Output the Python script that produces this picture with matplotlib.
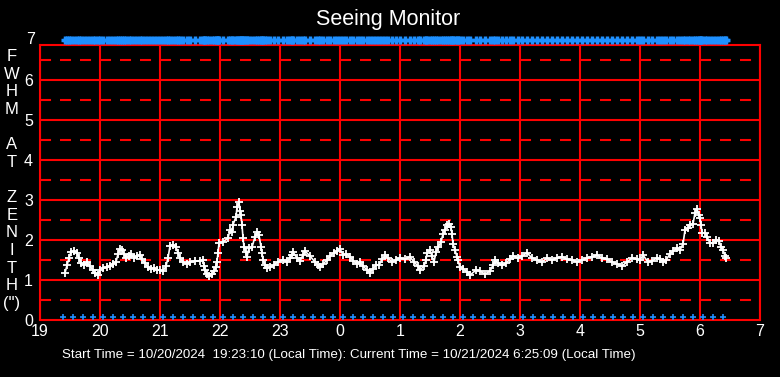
import matplotlib
matplotlib.use("Agg")
import matplotlib.pyplot as plt
import matplotlib.transforms as mtransforms

# minutes after 19:00 on 10/20/2024, FWHM at zenith (arcsec)
minutes = [25, 27, 29, 31, 34, 37, 39, 41, 44, 47, 50, 53, 55, 58, 60, 63, 67, 70, 73, 76,
           78, 80, 82, 84, 86, 89, 91, 94, 97, 100, 102, 105, 108, 111, 114, 117, 120, 123,
           126, 128, 130, 133, 136, 138, 140, 143, 147, 150, 155, 160, 163, 164, 165, 167,
           169, 172, 174, 176, 177, 178, 179, 183, 188, 190, 192, 193, 196, 197, 199, 200,
           201, 202, 203, 204, 206, 207, 209, 212, 215, 217, 219, 221, 222, 223, 225, 227,
           230, 234, 238, 243, 247, 250, 252, 253, 257, 260, 263, 265, 270, 275, 278, 280,
           283, 287, 290, 294, 297, 300, 303, 306, 310, 313, 317, 320, 323, 327, 330, 333,
           336, 339, 342, 345, 348, 352, 356, 360, 365, 370, 374, 378, 380, 384, 386, 387,
           390, 392, 394, 396, 398, 401, 403, 405, 407, 409, 411, 412, 413, 415, 417, 418,
           420, 423, 427, 430, 436, 440, 445, 450, 453, 455, 458, 462, 466, 470, 473, 478,
           482, 487, 492, 497, 502, 507, 512, 517, 522, 527, 532, 537, 542, 547, 552, 557,
           562, 567, 572, 577, 582, 587, 592, 597, 600, 603, 608, 612, 617, 620, 623, 626,
           630, 633, 637, 640, 643, 645, 648, 650, 653, 655, 657, 659, 660, 661, 662, 665,
           667, 670, 673, 676, 679, 681, 683, 685, 686]
fwhm = [1.18, 1.37, 1.55, 1.70, 1.72, 1.68, 1.55, 1.42, 1.37, 1.45, 1.35, 1.25, 1.18, 1.12,
        1.25, 1.30, 1.32, 1.35, 1.40, 1.45, 1.65, 1.78, 1.75, 1.65, 1.55, 1.60, 1.65, 1.55,
        1.60, 1.62, 1.52, 1.42, 1.32, 1.28, 1.30, 1.25, 1.25, 1.22, 1.35, 1.55, 1.85, 1.88,
        1.82, 1.68, 1.55, 1.45, 1.40, 1.45, 1.48, 1.48, 1.50, 1.35, 1.25, 1.15, 1.10, 1.15,
        1.22, 1.32, 1.45, 1.68, 1.92, 1.95, 2.05, 2.25, 2.20, 2.38, 2.58, 2.82, 2.95, 2.72,
        2.62, 2.38, 2.05, 1.82, 1.70, 1.58, 1.80, 1.82, 2.08, 2.20, 2.12, 1.82, 1.68, 1.50,
        1.38, 1.30, 1.32, 1.38, 1.45, 1.50, 1.45, 1.55, 1.62, 1.70, 1.55, 1.48, 1.62, 1.72,
        1.60, 1.45, 1.37, 1.32, 1.40, 1.50, 1.60, 1.68, 1.72, 1.78, 1.62, 1.65, 1.58, 1.48,
        1.40, 1.45, 1.35, 1.25, 1.18, 1.28, 1.37, 1.37, 1.52, 1.62, 1.55, 1.45, 1.50, 1.55,
        1.52, 1.58, 1.45, 1.35, 1.25, 1.35, 1.50, 1.68, 1.75, 1.60, 1.45, 1.70, 1.82, 1.95,
        2.15, 2.25, 2.38, 2.40, 2.32, 2.15, 1.90, 1.75, 1.58, 1.50, 1.32, 1.28, 1.20, 1.12,
        1.25, 1.22, 1.15, 1.22, 1.37, 1.50, 1.42, 1.37, 1.42, 1.52, 1.60, 1.55, 1.60, 1.68,
        1.55, 1.50, 1.45, 1.55, 1.50, 1.55, 1.58, 1.52, 1.50, 1.45, 1.50, 1.55, 1.58, 1.62,
        1.55, 1.52, 1.45, 1.40, 1.35, 1.45, 1.55, 1.52, 1.50, 1.62, 1.45, 1.48, 1.55, 1.52,
        1.45, 1.50, 1.65, 1.72, 1.80, 1.75, 1.90, 2.25, 2.30, 2.38, 2.40, 2.68, 2.78, 2.62,
        2.55, 2.38, 2.18, 2.18, 2.08, 1.92, 1.92, 2.00, 1.98, 1.82, 1.75, 1.60, 1.55]

# 10-minute status markers along the bottom
status_minutes = [23, 33, 43, 53, 63, 73, 83, 93, 103, 113, 123, 133, 143, 153, 163, 173,
                  183, 193, 203, 213, 223, 233, 243, 253, 263, 273, 283, 293, 303, 313, 323,
                  333, 343, 353, 363, 373, 383, 393, 403, 413, 423, 433, 443, 453, 463, 473,
                  483, 493, 503, 513, 523, 533, 543, 553, 563, 573, 583, 593, 603, 613, 623,
                  633, 643, 653, 663, 673, 683]

hour_ticks = [0, 60, 120, 180, 240, 300, 360, 420, 480, 540, 600, 660, 720]
hour_labels = ["19", "20", "21", "22", "23", "0", "1", "2", "3", "4", "5", "6", "7"]
y_ticks = [0, 1, 2, 3, 4, 5, 6]
half_lines = [0.5, 1.5, 2.5, 3.5, 4.5, 5.5, 6.5]

font = ["Liberation Sans", "DejaVu Sans"]
red = "#ff0000"
blue = "#1e90ff"

W, H = 780, 377
fig = plt.figure(figsize=(W / 100, H / 100), dpi=100, facecolor="black")
ax = fig.add_axes([40 / W, 1 - 320 / H, 720 / W, 275 / H], facecolor="black")
ax.set_xlim(0, 720)
ax.set_ylim(0, 6.875)

# grid
for y in y_ticks[1:]:
    ax.axhline(y, color=red, lw=1.5, zorder=1)
for y in half_lines:
    ax.axhline(y, color=red, lw=1.5, ls=(0, (5.3, 4.3)), zorder=1)
for x in hour_ticks:
    ax.axvline(x, color=red, lw=1.5, zorder=1)
for s in ax.spines.values():
    s.set_color(red)
    s.set_linewidth(1.5)

# data
ax.plot(minutes, fwhm, color="white", lw=1.2, zorder=3)
ax.plot(minutes, fwhm, ls="none", marker="+", ms=6, mew=1.3, color="white", zorder=4)
ax.plot(minutes, [7] * len(minutes), ls="none", marker="+", ms=6, mew=2.5,
        color=blue, clip_on=False, zorder=5)
ax.plot(status_minutes, [0.07] * len(status_minutes), ls="none", marker="+", ms=5,
        mew=1.2, color=blue, zorder=5)

ax.set_xticks(hour_ticks)
ax.set_xticklabels(hour_labels)
ax.set_yticks(y_ticks)
ax.tick_params(length=0, colors="white", labelsize=11.5, pad=5)
ax.tick_params(axis="x", pad=3)
for lab in ax.get_xticklabels() + ax.get_yticklabels():
    lab.set_family(font)
trans = mtransforms.blended_transform_factory(ax.transAxes, ax.transData)
ax.text(-5 / 720, 7, "7", transform=trans, ha="right", va="center", color="white",
        fontsize=11.5, family=font)

fig.text(388 / W, 1 - 20 / H, "Seeing Monitor", ha="center", va="center", color="white",
         fontsize=15.5, family=font)
fig.text(12 / W, 1 - 180 / H, "F\nW\nH\nM\n\nA\nT\n\nZ\nE\nN\nI\nT\nH\n(\")",
         ha="center", va="center", color="white", fontsize=12, family=font,
         linespacing=1.22)
fig.text(349 / W, 1 - 355 / H,
         "Start Time = 10/20/2024  19:23:10 (Local Time): Current Time = 10/21/2024 6:25:09 (Local Time)",
         ha="center", va="center", color="white", fontsize=9.6, family=font)

fig.savefig("out.png", dpi=100, facecolor="black")
